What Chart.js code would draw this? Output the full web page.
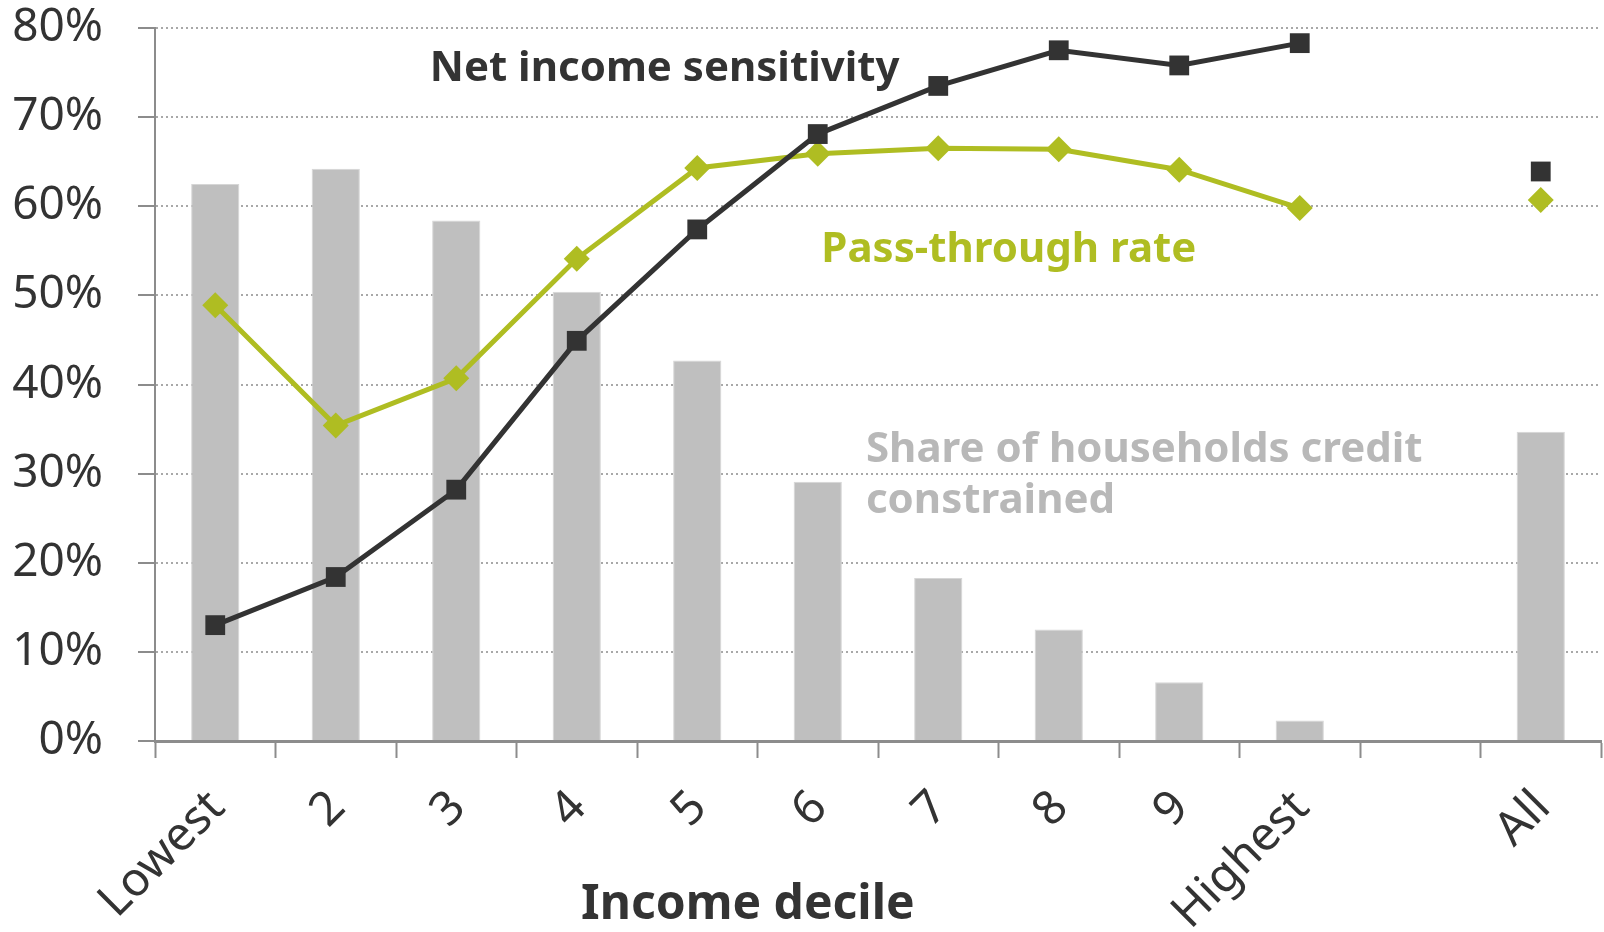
<!DOCTYPE html>
<html>
<head>
<meta charset="utf-8">
<title>Income decile chart</title>
<script src="https://cdn.jsdelivr.net/npm/chart.js@4.4.1/dist/chart.umd.min.js"></script>
<style>
  html, body { margin: 0; padding: 0; background: #fff; }
  #wrap { width: 1604px; height: 932px; position: relative; }
</style>
</head>
<body>
<div id="wrap"><canvas id="myChart"></canvas></div>
<script>
// income deciles, a spacer, then the overall figure
const deciles = ['Lowest', '2', '3', '4', '5', '6', '7', '8', '9', 'Highest', '', 'All'];
const creditConstrained = [62.5, 64.2, 58.4, 50.4, 42.7, 29.1, 18.3, 12.5, 6.6, 2.3, null, 34.7];
const netIncomeSensitivity = [13.0, 18.4, 28.2, 44.9, 57.4, 68.1, 73.5, 77.5, 75.8, 78.3, null, 63.9];
const passThroughRate = [48.9, 35.4, 40.7, 54.1, 64.3, 65.9, 66.5, 66.4, 64.1, 59.8, null, 60.7];
const yTicks = [0, 10, 20, 30, 40, 50, 60, 70, 80];

const darkGrey = '#333333';
const green = '#afbd22';
const barGrey = '#bfbfbf';
const fontName = '"Noto Sans", "Open Sans", sans-serif';

// in-chart series labels: [text, x index, y value, colour]
const seriesLabels = [
  ['Net income sensitivity', 1.78, 75.45, darkGrey],
  ['Pass-through rate', 5.03, 55.07, green],
  ['Share of households credit', 5.40, 32.64, '#b8b8b8'],
  ['constrained', 5.40, 26.94, '#b8b8b8']
];
const xTitle = 'Income decile';

const labelPlugin = {
  id: 'seriesLabels',
  afterDraw(chart) {
    const ctx = chart.ctx;
    const x = chart.scales.x, y = chart.scales.y;
    ctx.save();
    ctx.textBaseline = 'middle';
    ctx.font = 'bold 42px ' + fontName;
    ctx.textAlign = 'left';
    seriesLabels.forEach(l => {
      ctx.fillStyle = l[3];
      ctx.fillText(l[0], x.getPixelForValue(l[1]), y.getPixelForValue(l[2]));
    });
    ctx.font = 'bold 48px ' + fontName;
    ctx.fillStyle = darkGrey;
    ctx.textAlign = 'center';
    ctx.fillText(xTitle, x.getPixelForValue(4.42), y.getPixelForValue(-18.45));
    ctx.restore();
  }
};

const ctx = document.getElementById('myChart').getContext('2d');
const chart = new Chart(ctx, {
  data: {
    labels: deciles,
    datasets: [
      {
        type: 'line',
        label: 'Net income sensitivity',
        data: netIncomeSensitivity,
        borderColor: darkGrey,
        backgroundColor: darkGrey,
        borderWidth: 5,
        pointStyle: 'rect',
        pointRadius: 14,
        pointBorderWidth: 0,
        spanGaps: false,
        order: 1
      },
      {
        type: 'line',
        label: 'Pass-through rate',
        data: passThroughRate,
        borderColor: green,
        backgroundColor: green,
        borderWidth: 5,
        pointStyle: 'rectRot',
        pointRadius: 13,
        pointBorderWidth: 0,
        spanGaps: false,
        order: 2
      },
      {
        type: 'bar',
        label: 'Share of households credit constrained',
        data: creditConstrained,
        backgroundColor: barGrey,
        borderColor: '#d6d6d6',
        borderWidth: 1,
        barPercentage: 0.4,
        categoryPercentage: 1,
        order: 3
      }
    ]
  },
  options: {
    responsive: true,
    maintainAspectRatio: false,
    animation: false,
    layout: { autoPadding: false, padding: { top: 28, right: 3, left: 0, bottom: 0 } },
    plugins: {
      legend: { display: false },
      tooltip: { enabled: false }
    },
    scales: {
      x: {
        offset: true,
        grid: {
          offset: true,
          drawOnChartArea: false,
          tickLength: 17,
          tickColor: '#8c8c8c',
          tickWidth: 2
        },
        border: { color: '#8c8c8c', width: 3 },
        ticks: {
          color: darkGrey,
          font: { family: fontName, size: 47 },
          maxRotation: 45,
          minRotation: 45,
          padding: 22,
          labelOffset: 2,
          autoSkip: false
        },
        afterFit(scale) {
          scale.height = 191;
          scale.paddingLeft = 0;
          scale.paddingRight = 0;
        }
      },
      y: {
        min: 0,
        max: 80,
        afterBuildTicks(scale) { scale.ticks = yTicks.map(v => ({ value: v })); },
        grid: {
          color: '#a8a8a8',
          lineWidth: 2,
          tickLength: 17,
          tickColor: '#8c8c8c',
          tickWidth: 2,
          tickBorderDash: []
        },
        border: { color: '#8c8c8c', width: 2, dash: [2, 3] },
        ticks: {
          color: darkGrey,
          font: { family: fontName, size: 46 },
          padding: 35,
          callback: v => v + '%'
        },
        afterFit(scale) {
          scale.width = 155;
          scale.paddingTop = 0;
          scale.paddingBottom = 0;
        }
      }
    }
  },
  plugins: [labelPlugin]
});
</script>
</body>
</html>
